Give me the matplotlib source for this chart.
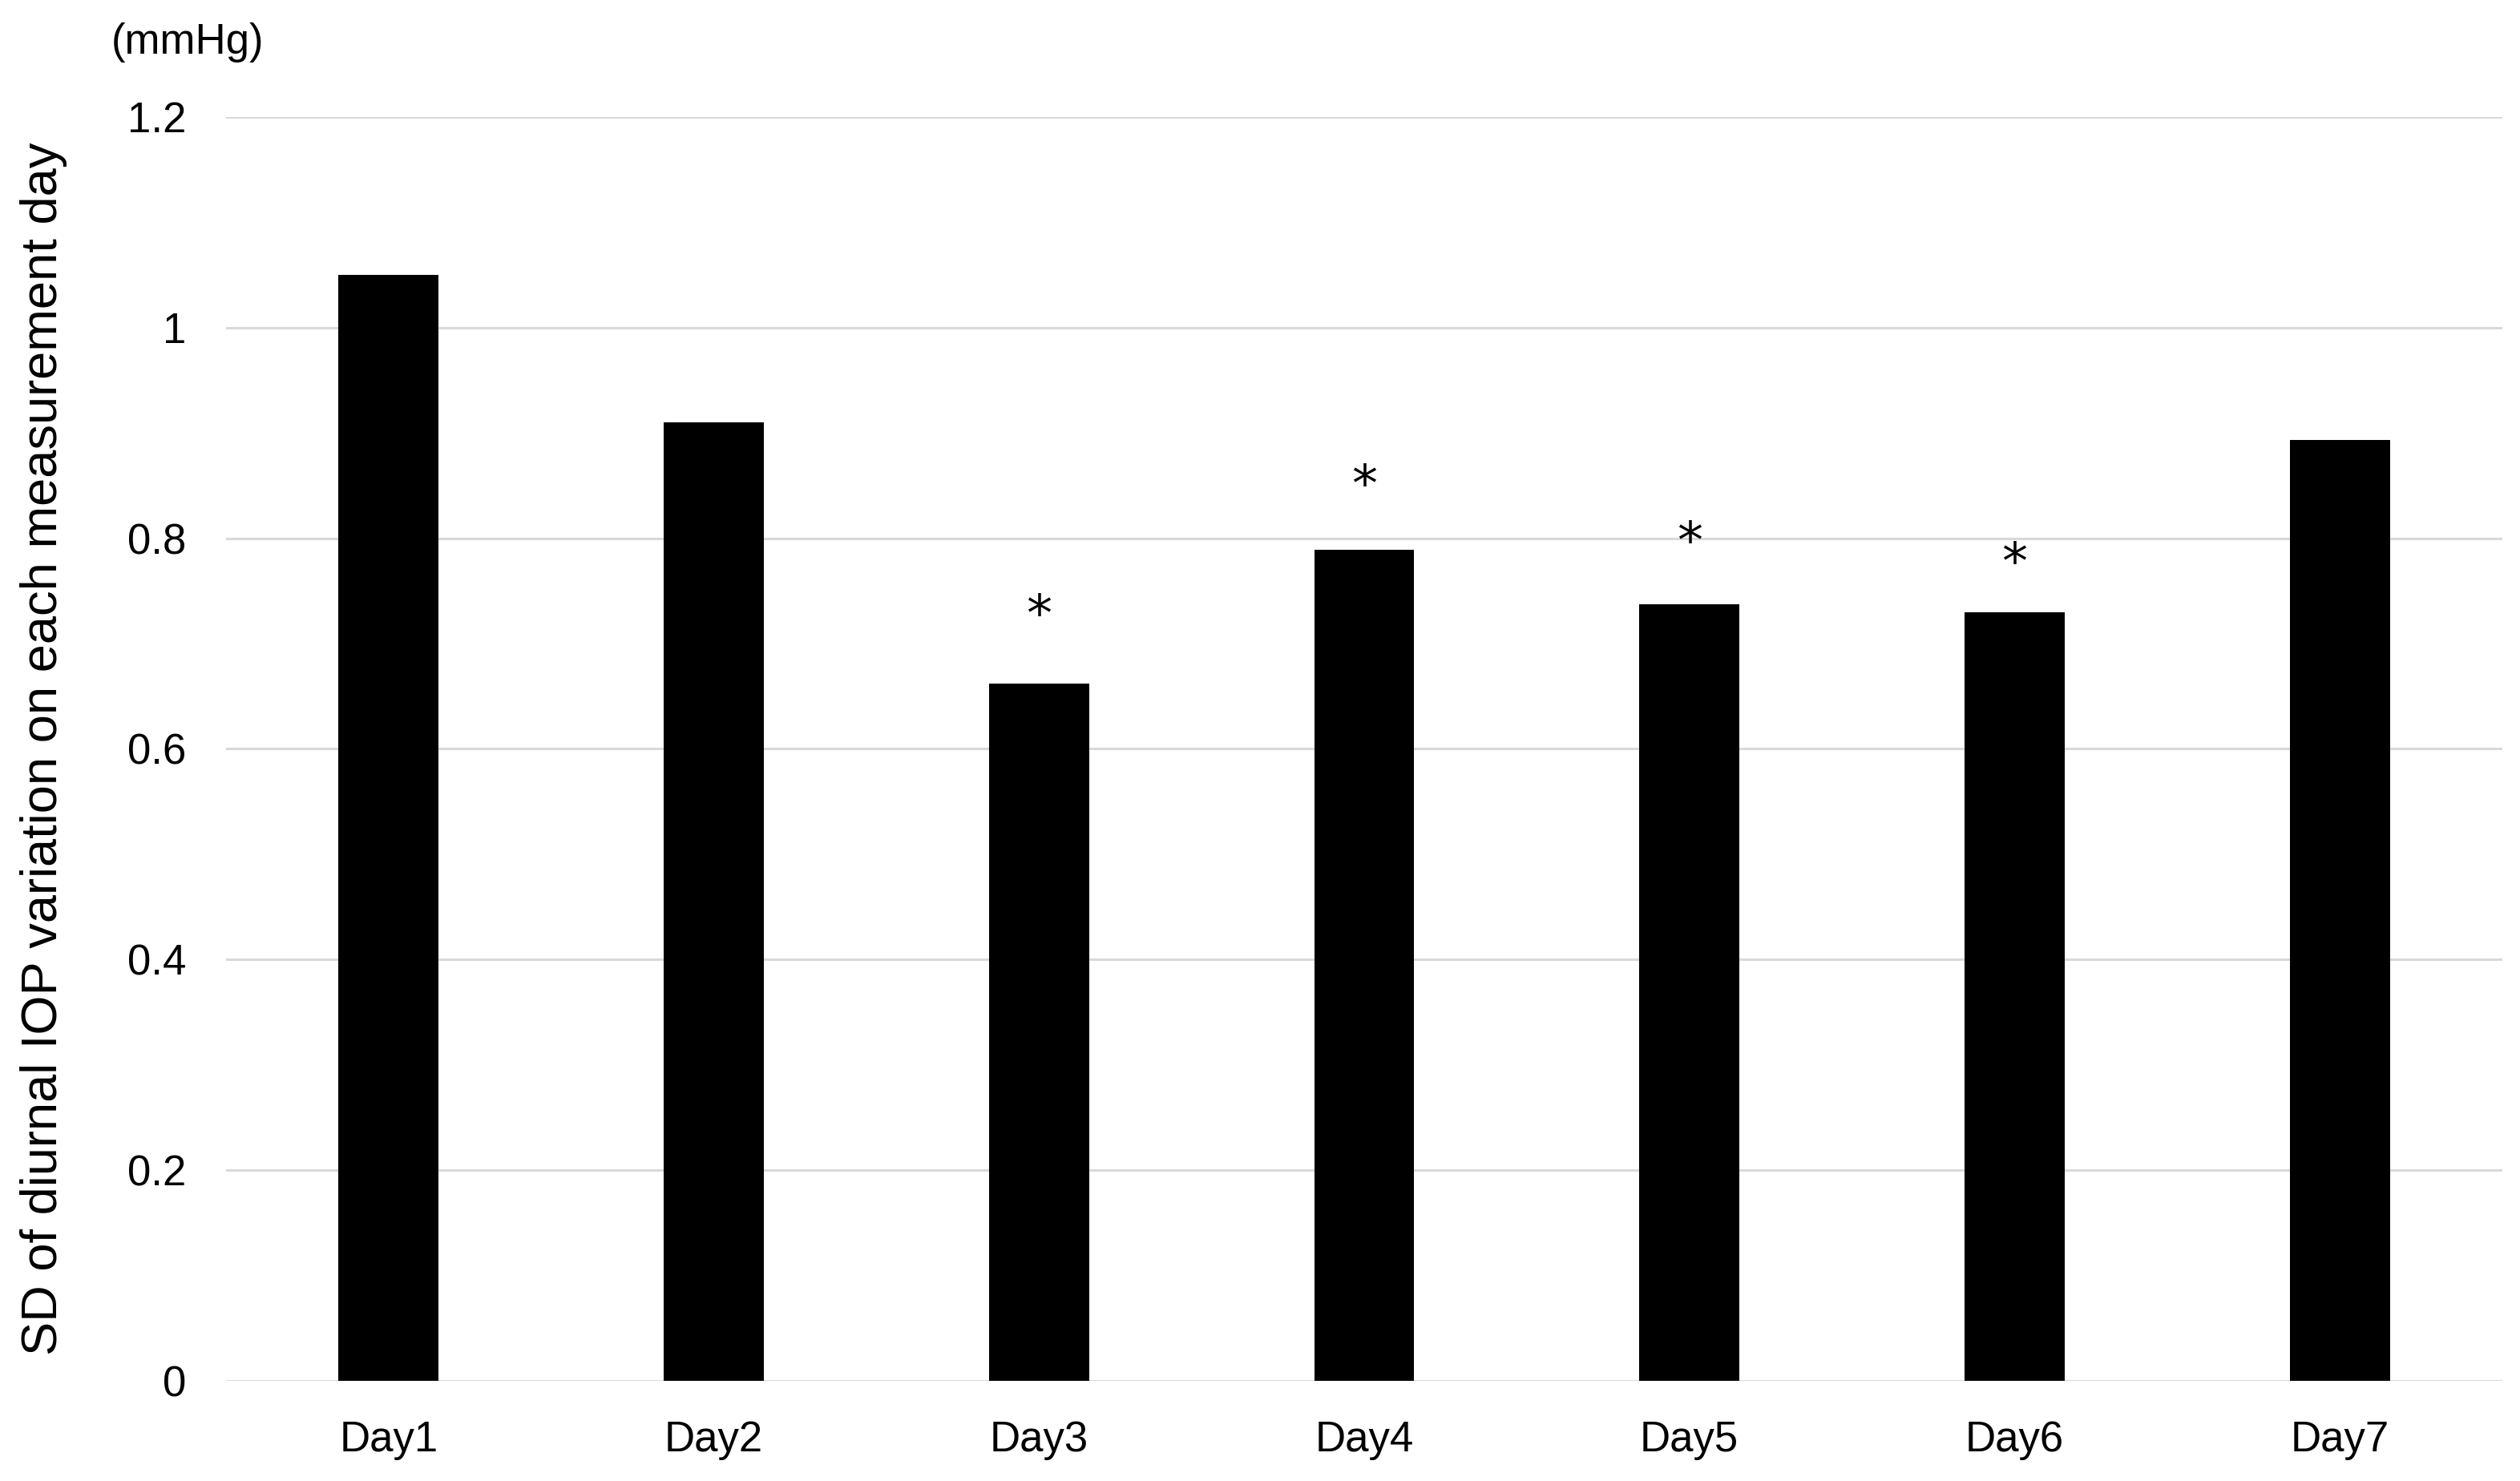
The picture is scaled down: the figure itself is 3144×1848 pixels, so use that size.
import matplotlib
matplotlib.use('Agg')
import matplotlib.pyplot as plt

# 数据
days = ['Day1', 'Day2', 'Day3', 'Day4', 'Day5', 'Day6', 'Day7']
sd_values = [1.05, 0.91, 0.662, 0.789, 0.737, 0.730, 0.893]
# 显著性标记 (天, 标记高度)
star_days = ['Day3', 'Day4', 'Day5', 'Day6']
star_y = [0.726, 0.849, 0.795, 0.775]
y_ticks = [0, 0.2, 0.4, 0.6, 0.8, 1, 1.2]
y_ticklabels = ['0', '0.2', '0.4', '0.6', '0.8', '1', '1.2']

plt.rcParams['font.family'] = ['Liberation Sans', 'DejaVu Sans']

fig = plt.figure(figsize=(31.44, 18.48), dpi=100)
ax = fig.add_axes([0.0897, 0.0676, 0.9033, 0.8535])

x = list(range(len(days)))
ax.bar(x, sd_values, width=0.308, color='black', zorder=3)

for d, y in zip(star_days, star_y):
    ax.text(days.index(d), y, '*', ha='center', va='center',
            fontsize=46, family='DejaVu Sans', color='black', zorder=4)

ax.set_xlim(-0.5, len(days) - 0.5)
ax.set_ylim(0, 1.2)
ax.set_xticks(x)
ax.set_xticklabels(days)
ax.set_yticks(y_ticks)
ax.set_yticklabels(y_ticklabels)

ax.yaxis.grid(True, color='#d9d9d9', linewidth=2.2, zorder=0)
for s in ax.spines.values():
    s.set_visible(False)
ax.tick_params(axis='both', length=0, labelsize=38, colors='black')
ax.tick_params(axis='x', pad=35)
ax.tick_params(axis='y', pad=36)

ax.set_ylabel('SD of diurnal IOP variation on each measurement day', fontsize=45.5)
ax.yaxis.set_label_coords(-0.0696, 0.5)

fig.text(234 / 3144, 1 - 53 / 1848, '(mmHg)', ha='center', va='center', fontsize=38)

plt.savefig('out.png', dpi=100)
